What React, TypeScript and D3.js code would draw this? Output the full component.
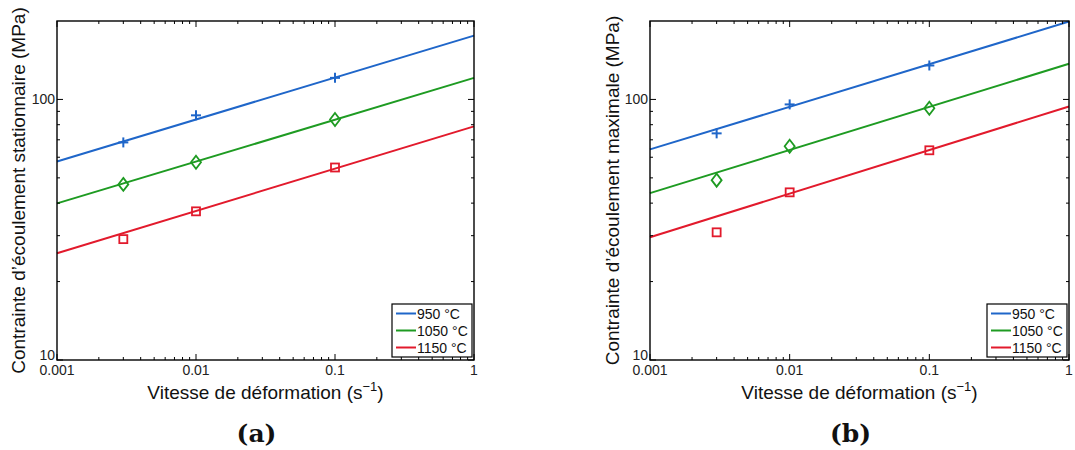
import React from "react";
import * as d3 from "d3";

// ---------- data ----------
const temperatures = ["950 °C", "1050 °C", "1150 °C"];
const colors = ["#1f66c9", "#1e9b22", "#e21a2c"];
const markerKinds = ["plus", "diamond", "square"];

const rates = [0.003, 0.01, 0.1];
const fitRates = [0.001, 1];

// (a) stationary flow stress (MPa)
const stationary950 = [68.4, 86.9, 121];
const stationary1050 = [47.2, 57.4, 83.8];
const stationary1150 = [29.1, 37.2, 54.8];
const stationaryFit950 = [57.8, 175.8];
const stationaryFit1050 = [39.9, 121];
const stationaryFit1150 = [25.7, 78.8];

// (b) maximal flow stress (MPa)
const maximal950 = [74.1, 95.7, 135];
const maximal1050 = [49.0, 66.1, 92.5];
const maximal1150 = [30.9, 44.0, 63.8];
const maximalFit950 = [64.3, 199];
const maximalFit1050 = [43.7, 137];
const maximalFit1150 = [29.6, 94];

const xDomain = [0.001, 1];
const yDomain = [10, 200];
const xTickValues = [0.001, 0.01, 0.1, 1];
const xTickLabels = ["0.001", "0.01", "0.1", "1"];
const yTickValues = [10, 100];
const yTickLabels = ["10", "100"];

const xMinor: number[] = [];
[0.001, 0.01, 0.1].forEach((d) => {
  for (let k = 2; k <= 9; k++) xMinor.push(d * k);
});
const yMinor: number[] = [];
for (let k = 2; k <= 9; k++) yMinor.push(10 * k);

const FONT = "'Liberation Sans', Arial, Helvetica, sans-serif";

type PanelProps = {
  left: number;
  right: number;
  top: number;
  bottom: number;
  points: number[][];
  fits: number[][];
  yLabel: string;
  caption: string;
  yLabelX: number;
};

function Marker({ kind, x, y, color }: { kind: string; x: number; y: number; color: string }) {
  if (kind === "plus") {
    return (
      <g stroke={color} strokeWidth={2}>
        <line x1={x - 5} x2={x + 5} y1={y} y2={y} />
        <line x1={x} x2={x} y1={y - 5} y2={y + 5} />
      </g>
    );
  }
  if (kind === "diamond") {
    return (
      <path
        d={`M${x},${y - 6.5}L${x + 5},${y}L${x},${y + 6.5}L${x - 5},${y}Z`}
        fill="none"
        stroke={color}
        strokeWidth={1.8}
      />
    );
  }
  return <rect x={x - 4} y={y - 4} width={8} height={8} fill="none" stroke={color} strokeWidth={1.8} />;
}

function Panel({ left, right, top, bottom, points, fits, yLabel, caption, yLabelX }: PanelProps) {
  const x = d3.scaleLog().domain(xDomain).range([left, right]);
  const y = d3.scaleLog().domain(yDomain).range([bottom, top]);
  const line = d3
    .line<[number, number]>()
    .x((d) => x(d[0]))
    .y((d) => y(d[1]));
  const cx = (left + right) / 2;
  const cy = (top + bottom) / 2;
  const legW = 80;
  const legH = 53;
  const legX = right - 2 - legW;
  const legY = bottom - 3 - legH;
  return (
    <g>
      {/* fits */}
      {fits.map((f, i) => (
        <path
          key={"f" + i}
          d={line(fitRates.map((r, j) => [r, f[j]] as [number, number])) || ""}
          fill="none"
          stroke={colors[i]}
          strokeWidth={2}
        />
      ))}
      {/* markers */}
      {points.map((p, i) =>
        p.map((v, j) => (
          <Marker key={`m${i}-${j}`} kind={markerKinds[i]} x={x(rates[j])} y={y(v)} color={colors[i]} />
        ))
      )}
      {/* ticks */}
      <g stroke="#000" strokeWidth={1}>
        {xTickValues.map((t) => (
          <g key={"xt" + t}>
            <line x1={x(t)} x2={x(t)} y1={bottom} y2={bottom - 6} />
            <line x1={x(t)} x2={x(t)} y1={top} y2={top + 6} />
          </g>
        ))}
        {xMinor.map((t) => (
          <g key={"xm" + t}>
            <line x1={x(t)} x2={x(t)} y1={bottom} y2={bottom - 3} />
            <line x1={x(t)} x2={x(t)} y1={top} y2={top + 3} />
          </g>
        ))}
        {yTickValues.map((t) => (
          <g key={"yt" + t}>
            <line x1={left} x2={left + 6} y1={y(t)} y2={y(t)} />
            <line x1={right} x2={right - 6} y1={y(t)} y2={y(t)} />
          </g>
        ))}
        {yMinor.map((t) => (
          <g key={"ym" + t}>
            <line x1={left} x2={left + 3} y1={y(t)} y2={y(t)} />
            <line x1={right} x2={right - 3} y1={y(t)} y2={y(t)} />
          </g>
        ))}
      </g>
      {/* box */}
      <rect x={left} y={top} width={right - left} height={bottom - top} fill="none" stroke="#000" strokeWidth={1.4} />
      {/* tick labels */}
      <g fontFamily={FONT} fontSize={14} fill="#222">
        {xTickValues.map((t, i) => (
          <text key={"xl" + t} x={x(t)} y={bottom + 15} textAnchor="middle">
            {xTickLabels[i]}
          </text>
        ))}
        {yTickValues.map((t, i) => (
          <text key={"yl" + t} x={left - 2} y={y(t) + (t === 10 ? 0 : 5)} textAnchor="end">
            {yTickLabels[i]}
          </text>
        ))}
      </g>
      {/* axis labels */}
      <text x={cx} y={bottom + 39} textAnchor="middle" fontFamily={FONT} fontSize={19} fill="#111">
        Vitesse de déformation (s
        <tspan dy={-8} fontSize={13}>−1</tspan>
        <tspan dy={8}>)</tspan>
      </text>
      <text
        transform={`translate(${yLabelX},${cy}) rotate(-90)`}
        textAnchor="middle"
        fontFamily={FONT}
        fontSize={19}
        fill="#111"
      >
        {yLabel}
      </text>
      {/* legend */}
      <rect x={legX} y={legY} width={legW} height={legH} fill="#fff" stroke="#000" strokeWidth={1.2} />
      {temperatures.map((t, i) => (
        <g key={"lg" + i}>
          <line
            x1={legX + 4}
            x2={legX + 24}
            y1={legY + 9.5 + i * 17}
            y2={legY + 9.5 + i * 17}
            stroke={colors[i]}
            strokeWidth={2}
          />
          <text x={legX + 25} y={legY + 14.5 + i * 17} fontFamily={FONT} fontSize={14} fill="#111">
            {t}
          </text>
        </g>
      ))}
      {/* caption */}
      <text
        x={cx - 9}
        y={442}
        textAnchor="middle"
        fontFamily="'DejaVu Serif', 'Liberation Serif', serif"
        fontWeight="bold"
        fontSize={25}
        fill="#111"
      >
        {caption}
      </text>
    </g>
  );
}

export default function App() {
  return (
    <svg
      width={1075}
      height={450}
      style={{ position: "absolute", left: 0, top: 0, background: "#fff" }}
    >
      <rect width={1075} height={450} fill="#fff" />
      <Panel
        left={57}
        right={474}
        top={21}
        bottom={360}
        points={[stationary950, stationary1050, stationary1150]}
        fits={[stationaryFit950, stationaryFit1050, stationaryFit1150]}
        yLabel="Contrainte d’écoulement stationnaire (MPa)"
        caption="(a)"
        yLabelX={25}
      />
      <Panel
        left={650}
        right={1069}
        top={21}
        bottom={360}
        points={[maximal950, maximal1050, maximal1150]}
        fits={[maximalFit950, maximalFit1050, maximalFit1150]}
        yLabel="Contrainte d’écoulement maximale (MPa)"
        caption="(b)"
        yLabelX={619}
      />
    </svg>
  );
}
